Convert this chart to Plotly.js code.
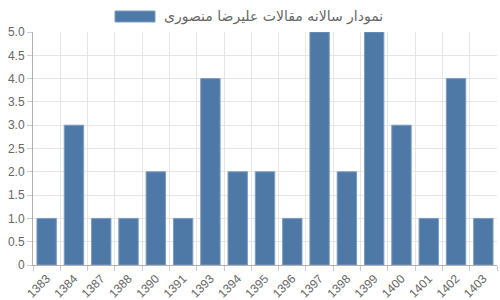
<!DOCTYPE html>
<html>
<head>
<meta charset="utf-8">
<script src="https://cdn.plot.ly/plotly-3.0.1.min.js"></script>
<style>html,body{margin:0;padding:0;background:#fff}#chart{width:500px;height:300px}</style>
</head>
<body>
<div id="chart"></div>
<script>
const years = ["1383","1384","1387","1388","1390","1391","1393","1394","1395","1396","1397","1398","1399","1400","1401","1402","1403"];
const counts = [1,3,1,1,2,1,4,2,2,1,5,2,5,3,1,4,1];
const seriesName = "نمودار سالانه مقالات علیرضا منصوری";
const yTickVals = [0,0.5,1,1.5,2,2.5,3,3.5,4,4.5,5];
const yTickText = ["0","0.5","1.0","1.5","2.0","2.5","3.0","3.5","4.0","4.5","5.0"];

const trace = {
  type: "bar",
  x: years,
  y: counts,
  name: seriesName,
  marker: {color: "#4e79a7", line: {color: "#7d9cc0", width: 1}},
  showlegend: false,
  hoverinfo: "x+y"
};

const layout = {
  width: 500, height: 300,
  margin: {l: 33, r: 3, t: 32, b: 35},
  paper_bgcolor: "#fff", plot_bgcolor: "#fff",
  font: {family: "Liberation Sans, Arial, sans-serif", size: 12, color: "#666"},
  bargap: 0.29,
  xaxis: {
    type: "category",
    range: [-0.5, years.length - 0.5],
    tickson: "boundaries",
    ticks: "outside", ticklen: 5, tickcolor: "#ccc",
    showgrid: true, gridcolor: "#e5e5e5", gridwidth: 1,
    showline: true, linecolor: "#b0b0b0", linewidth: 1,
    tickangle: -45,
    ticklabelstandoff: 1,
    tickfont: {size: 12, color: "#666"},
    zeroline: false, fixedrange: true
  },
  yaxis: {
    range: [0, 5],
    tickvals: yTickVals, ticktext: yTickText,
    ticks: "outside", ticklen: 5, tickcolor: "#ccc",
    showgrid: true, gridcolor: "#e5e5e5", gridwidth: 1,
    showline: true, linecolor: "#b0b0b0", linewidth: 1,
    zeroline: false,
    tickfont: {size: 12, color: "#666"},
    fixedrange: true
  },
  shapes: [{
    type: "rect", xref: "paper", yref: "paper",
    x0: (115-33)/464, x1: (155-33)/464, y0: (300-35-22)/233, y1: (300-35-11)/233,
    fillcolor: "#4e79a7", line: {color: "#7d9cc0", width: 1}
  }],
  annotations: [{
    xref: "paper", yref: "paper",
    x: (162-33)/464, y: (300-35-16.5)/233,
    xanchor: "left", yanchor: "middle",
    text: seriesName, showarrow: false,
    font: {family: "DejaVu Sans, Noto Sans, sans-serif", size: 14, color: "#666"}
  }]
};

Plotly.newPlot("chart", [trace], layout, {displayModeBar: false, staticPlot: true});
</script>
</body>
</html>
